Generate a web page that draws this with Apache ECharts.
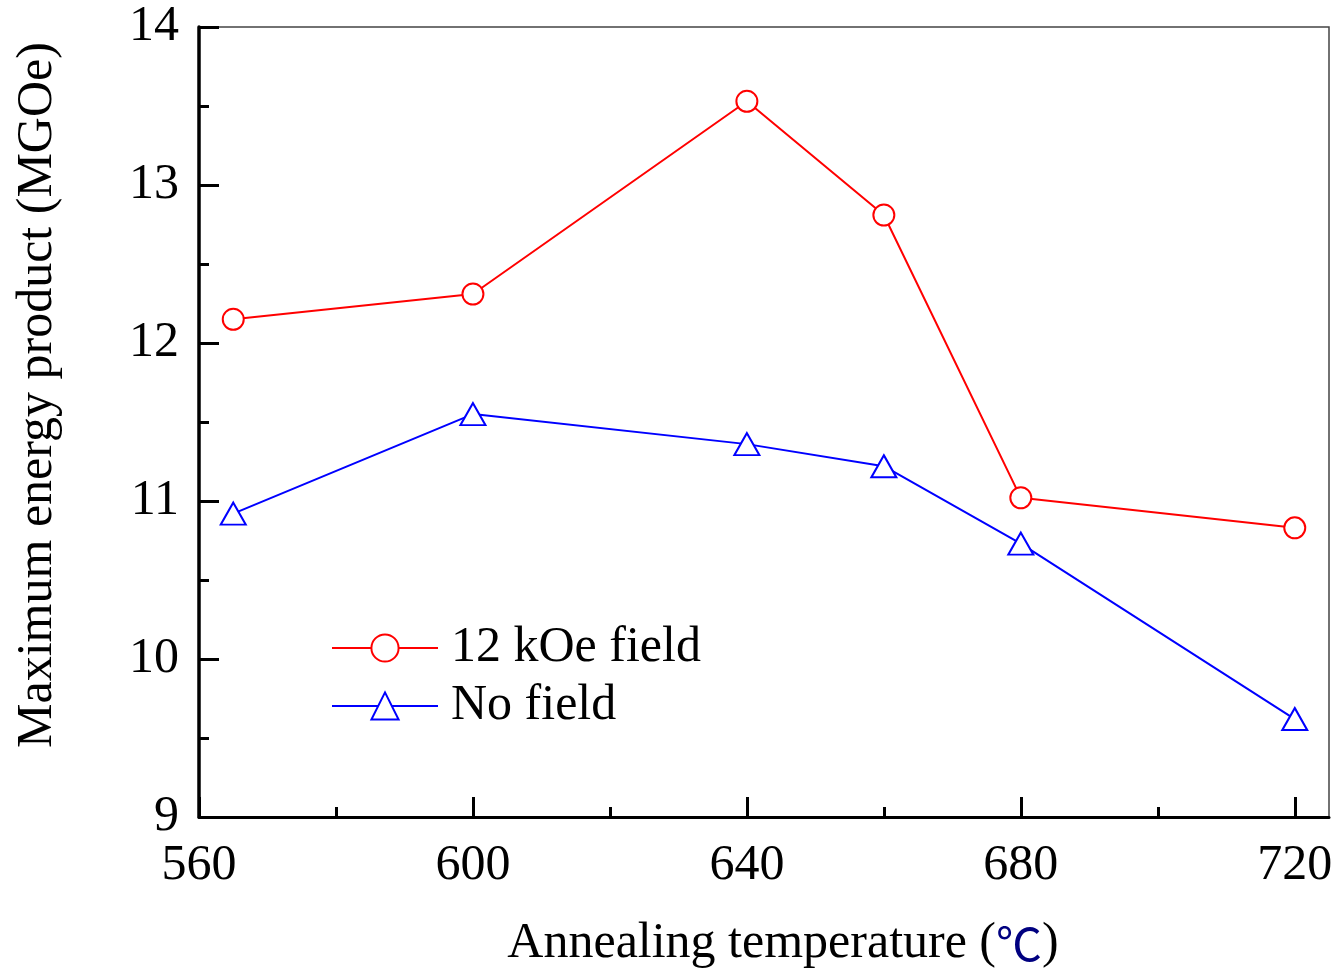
<!DOCTYPE html>
<html>
<head>
<meta charset="utf-8">
<script src="https://cdn.jsdelivr.net/npm/echarts@6/dist/echarts.min.js"></script>
<style>html,body{margin:0;padding:0;background:#fff;}#c{width:1341px;height:975px;}</style>
</head>
<body>
<div id="c"></div>
<script>
const temps = [565, 600, 640, 660, 680, 720];
const field12 = [12.15, 12.31, 13.53, 12.81, 11.02, 10.83];
const noField = [10.92, 11.55, 11.36, 11.22, 10.73, 9.62];
const xTicks = [560, 600, 640, 680, 720];
const xMinorTicks = [580, 620, 660, 700];
const seriesNames = ['12 kOe field', 'No field'];

const FONT = 'Liberation Serif';
const chart = echarts.init(document.getElementById('c'), null, {renderer: 'canvas'});
const pair = (xs, ys) => xs.map((x, i) => [x, ys[i]]);

chart.setOption({
  animation: false,
  backgroundColor: '#fff',
  grid: {left: 199, right: 12, top: 27, bottom: 158, show: true, borderColor: '#444', borderWidth: 1.5, backgroundColor: 'transparent'},
  legend: {
    left: 326, top: 618, orient: 'vertical', itemWidth: 106, itemHeight: 34, itemGap: 8,
    textStyle: {fontFamily: FONT, fontSize: 50, color: '#000', padding: [0, 0, 0, 8]},
    data: seriesNames
  },
  xAxis: [{
    type: 'value', min: 560, max: 725, position: 'bottom',
    axisLine: {onZero: false, lineStyle: {color: '#000', width: 3}},
    axisTick: {inside: true, length: 20, lineStyle: {color: '#000', width: 3}, customValues: xTicks},
    axisLabel: {customValues: xTicks, fontFamily: FONT, fontSize: 50, color: '#000', margin: 24},
    splitLine: {show: false},
    name: '{a|Annealing temperature (}{b|℃}{a|)}',
    nameLocation: 'middle', nameGap: 102,
    nameTextStyle: {padding: [0, 0, 0, 38], rich: {
      a: {fontFamily: FONT, fontSize: 50, color: '#000'},
      b: {fontFamily: 'Noto Sans CJK SC', fontSize: 46, color: '#000080'}
    }}
  }, {
    type: 'value', min: 560, max: 725, position: 'bottom',
    axisLine: {show: false, onZero: false},
    axisTick: {inside: true, length: 10, lineStyle: {color: '#000', width: 3}, customValues: xMinorTicks},
    axisLabel: {show: false},
    splitLine: {show: false}
  }],
  yAxis: {
    type: 'value', min: 9, max: 14, interval: 1,
    axisLine: {onZero: false, lineStyle: {color: '#000', width: 3.5}},
    axisTick: {inside: true, length: 20, lineStyle: {color: '#000', width: 3}},
    minorTick: {show: true, splitNumber: 2, length: 10, lineStyle: {color: '#000', width: 3}},
    axisLabel: {fontFamily: FONT, fontSize: 50, color: '#000', margin: 20},
    splitLine: {show: false},
    name: 'Maximum energy product (MGOe)',
    nameLocation: 'middle', nameGap: 136,
    nameTextStyle: {fontFamily: FONT, fontSize: 50, color: '#000', padding: [0, 0, 0, 54]}
  },
  series: [{
    name: seriesNames[0], type: 'line', xAxisIndex: 0,
    data: pair(temps, field12),
    symbol: 'circle', symbolSize: 21, showAllSymbol: true,
    lineStyle: {color: '#ff0000', width: 2},
    itemStyle: {color: '#fff', borderColor: '#ff0000', borderWidth: 2},
    z: 3
  }, {
    name: seriesNames[1], type: 'line', xAxisIndex: 0,
    data: pair(temps, noField),
    symbol: 'triangle', symbolSize: [25, 22], showAllSymbol: true,
    lineStyle: {color: '#0000ff', width: 2},
    itemStyle: {color: '#fff', borderColor: '#0000ff', borderWidth: 2},
    z: 3
  }]
});
</script>
</body>
</html>
